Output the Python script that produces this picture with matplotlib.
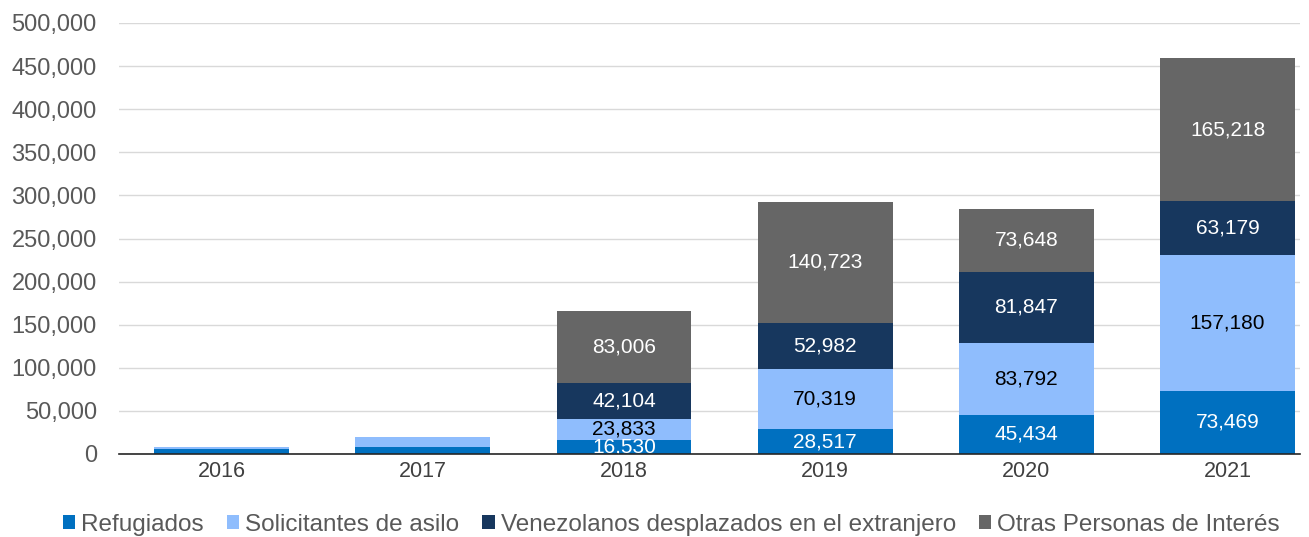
import matplotlib
matplotlib.use("Agg")
import matplotlib.pyplot as plt
import numpy as np

years = ["2016", "2017", "2018", "2019", "2020", "2021"]
refugiados = [5500, 7800, 16530, 28517, 45434, 73469]
solicitantes = [3000, 11500, 23833, 70319, 83792, 157180]
venezolanos = [0, 0, 42104, 52982, 81847, 63179]
otras = [0, 0, 83006, 140723, 73648, 165218]
series_names = ["Refugiados", "Solicitantes de asilo",
                "Venezolanos desplazados en el extranjero", "Otras Personas de Interés"]
colors = ["#0070C0", "#8FBDFD", "#17375E", "#666666"]
label_colors = ["white", "black", "white", "white"]
labeled_years = [False, False, True, True, True, True]

plt.rcParams['font.family'] = ['Liberation Sans', 'DejaVu Sans']

fig = plt.figure(figsize=(13.09, 5.37), dpi=100)
ax = fig.add_axes([119/1309, 1 - 454/537, (1300-119)/1309, (454-23)/537])

x = np.arange(len(years))
data = [refugiados, solicitantes, venezolanos, otras]
bottom = np.zeros(len(years))
handles = []
for vals, name, c, lc in zip(data, series_names, colors, label_colors):
    vals = np.array(vals, dtype=float)
    b = ax.bar(x, vals, 0.67, bottom=bottom, color=c, label=name, zorder=3)
    handles.append(b)
    for i, v in enumerate(vals):
        if labeled_years[i] and v > 0:
            ax.text(x[i], bottom[i] + v / 2, f"{int(v):,}", ha="center", va="center",
                    color=lc, fontsize=15, zorder=4)
    bottom += vals

ax.set_ylim(0, 500000)
ax.set_xlim(-0.51, 5.36)
ax.set_yticks(np.arange(0, 500001, 50000))
ax.set_yticklabels([f"{v:,}" for v in range(0, 500001, 50000)])
ax.set_xticks(x)
ax.set_xticklabels(years)
ax.grid(axis="y", color="#D9D9D9", linewidth=1, zorder=0)
for s in ["top", "right", "left"]:
    ax.spines[s].set_visible(False)
ax.spines["bottom"].set_color("#262626")
ax.spines["bottom"].set_linewidth(1.2)
ax.spines["bottom"].set_zorder(5)
ax.tick_params(axis="y", length=0, labelsize=17, labelcolor="#595959", pad=16)
ax.tick_params(axis="x", length=0, labelsize=15.5, labelcolor="#404040", pad=5)

fig.legend(handles=handles, labels=series_names, loc="center", bbox_to_anchor=(0.513, 1 - 525/537),
           ncol=4, frameon=False, fontsize=17.5, handlelength=0.5, handleheight=0.5,
           handletextpad=0.25, columnspacing=0.95, labelcolor="#595959")

fig.savefig("out.png", dpi=100)
